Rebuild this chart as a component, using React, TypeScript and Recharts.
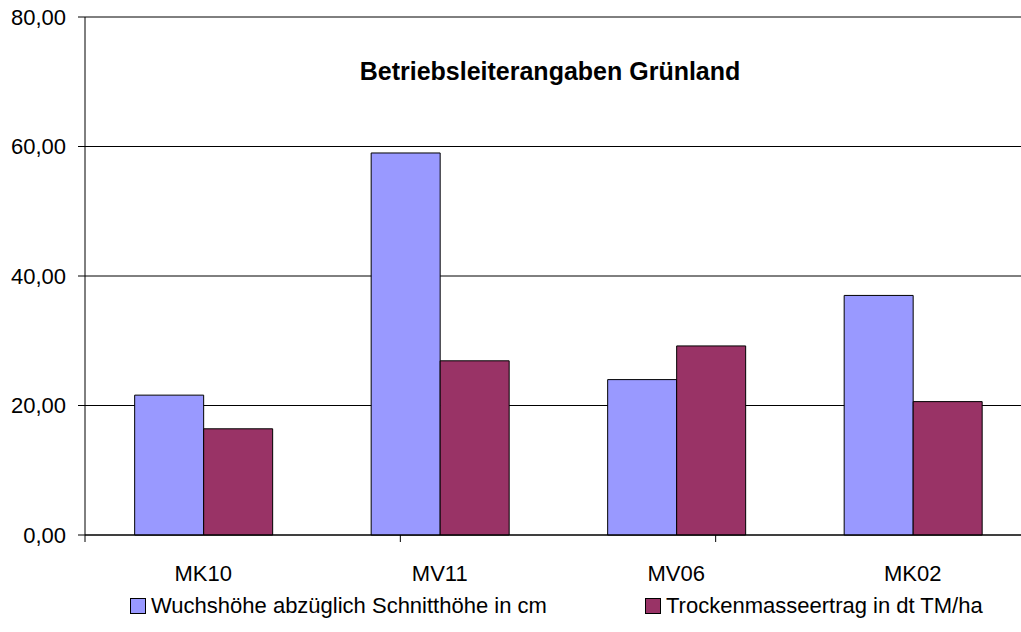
import React from "react";
import {
  BarChart,
  Bar,
  XAxis,
  YAxis,
  CartesianGrid,
} from "recharts";

const categories = ["MK10", "MV11", "MV06", "MK02"];
const wuchshoehe = [21.6, 59.0, 24.0, 37.0];
const trockenmasse = [16.4, 26.9, 29.2, 20.6];
const yTicks = [0, 20, 40, 60, 80];
const edgeTicks = [0, 1, 2, 3, 4];

const seriesNames = [
  "Wuchshöhe abzüglich Schnitthöhe in cm",
  "Trockenmasseertrag in dt TM/ha",
];
const colors = ["#9999FF", "#993366"];

const font = "'Liberation Sans', Arial, Helvetica, sans-serif";

const data = categories.map((name, i) => ({
  name,
  a: wuchshoehe[i],
  b: trockenmasse[i],
}));

const fmt = (v: number) => v.toFixed(2).replace(".", ",");

export default function App() {
  return (
    <div
      style={{
        position: "absolute",
        left: 0,
        top: 0,
        width: 1021,
        height: 632,
        overflow: "hidden",
        background: "#fff",
        fontFamily: font,
      }}
    >
      <BarChart
        width={1060}
        height={590}
        data={data}
        margin={{ top: 17, right: 29, left: 0, bottom: 0 }}
        barCategoryGap="21%"
        barGap={0}
      >
        <CartesianGrid
          horizontal
          vertical={false}
          stroke="#000"
          yAxisId="y"
          xAxisId="b_cat"
        />
        {/* tick marks between categories, like the original */}
        <XAxis
          xAxisId="a_edge"
          type="number"
          domain={[0, 4]}
          ticks={edgeTicks}
          tickFormatter={() => ""}
          tickSize={7}
          height={8}
          axisLine={{ stroke: "#000" }}
          tickLine={{ stroke: "#000" }}
        />
        <XAxis
          xAxisId="b_cat"
          dataKey="name"
          type="category"
          axisLine={false}
          tickLine={false}
          tickSize={0}
          tickMargin={22}
          height={47}
          tick={{ fontSize: 22, fill: "#000", fontFamily: font }}
        />
        <YAxis
          yAxisId="y"
          width={85}
          domain={[0, 80]}
          ticks={yTicks}
          tickFormatter={fmt}
          tickSize={7}
          tickMargin={12}
          axisLine={{ stroke: "#000" }}
          tickLine={{ stroke: "#000" }}
          tick={{ fontSize: 22, fill: "#000", fontFamily: font }}
        />
        <Bar
          xAxisId="b_cat"
          yAxisId="y"
          dataKey="a"
          name={seriesNames[0]}
          fill={colors[0]}
          stroke="#000"
          strokeWidth={1}
          isAnimationActive={false}
        />
        <Bar
          xAxisId="b_cat"
          yAxisId="y"
          dataKey="b"
          name={seriesNames[1]}
          fill={colors[1]}
          stroke="#000"
          strokeWidth={1}
          isAnimationActive={false}
        />
      </BarChart>

      <div
        style={{
          position: "absolute",
          left: 0,
          width: 1100,
          top: 57,
          textAlign: "center",
          fontSize: 25,
          fontWeight: "bold",
          lineHeight: "28px",
        }}
      >
        Betriebsleiterangaben Grünland
      </div>

      {seriesNames.map((s, i) => (
        <div
          key={s}
          style={{
            position: "absolute",
            left: i === 0 ? 130 : 645,
            top: 593,
            display: "flex",
            alignItems: "center",
            fontSize: 22,
            lineHeight: "26px",
            whiteSpace: "nowrap",
          }}
        >
          <span
            style={{
              display: "inline-block",
              width: 14,
              height: 14,
              background: colors[i],
              border: "1px solid #000",
              marginRight: 5,
            }}
          />
          {s}
        </div>
      ))}
    </div>
  );
}
